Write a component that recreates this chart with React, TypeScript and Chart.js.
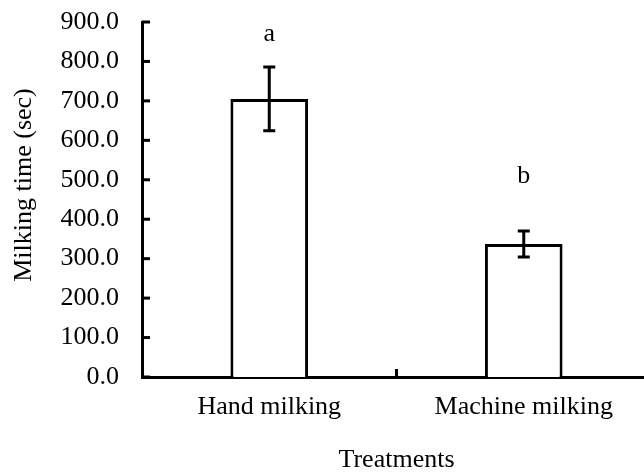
import React, { useEffect, useRef } from "react";
import { Chart, registerables } from "chart.js";

Chart.register(...registerables);

const categories = ["Hand milking", "Machine milking"];
const meanValues = [705, 337];
const errorValues = [81, 33];
const groupLetters = ["a", "b"];
const letterValues = [852, 492];
const yMin = 0;
const yMax = 900;
const yStep = 100;

const FONT = "'Liberation Serif', 'Times New Roman', serif";
const FS = 26;

const customDraw = {
  id: "customDraw",
  afterDatasetsDraw(chart: any) {
    const { ctx, scales, chartArea } = chart;
    const x = scales.x;
    const y = scales.y;
    const meta = chart.getDatasetMeta(0);
    ctx.save();
    ctx.strokeStyle = "#000";
    ctx.lineWidth = 3;
    ctx.lineCap = "butt";
    // error bars
    meta.data.forEach((bar: any, i: number) => {
      const cx = bar.x;
      const top = y.getPixelForValue(meanValues[i] + errorValues[i]);
      const bot = y.getPixelForValue(meanValues[i] - errorValues[i]);
      const cap = 6;
      ctx.beginPath();
      ctx.moveTo(cx, top);
      ctx.lineTo(cx, bot);
      ctx.moveTo(cx - cap, top);
      ctx.lineTo(cx + cap, top);
      ctx.moveTo(cx - cap, bot);
      ctx.lineTo(cx + cap, bot);
      ctx.stroke();
      // letters
      ctx.fillStyle = "#000";
      ctx.font = `${FS}px ${FONT}`;
      ctx.textAlign = "center";
      ctx.textBaseline = "alphabetic";
      ctx.fillText(groupLetters[i], cx, y.getPixelForValue(letterValues[i]));
    });
    // inward y ticks
    y.ticks.forEach((t: any) => {
      const py = y.getPixelForValue(t.value);
      ctx.beginPath();
      ctx.moveTo(chartArea.left, py);
      ctx.lineTo(chartArea.left + 8, py);
      ctx.stroke();
    });
    // inward x category separator ticks
    for (let i = 1; i < categories.length; i++) {
      const px = (x.getPixelForValue(i - 1) + x.getPixelForValue(i)) / 2;
      ctx.beginPath();
      ctx.moveTo(px, chartArea.bottom);
      ctx.lineTo(px, chartArea.bottom - 8);
      ctx.stroke();
    }
    // y axis title
    ctx.save();
    ctx.translate(24, 185);
    ctx.rotate(-Math.PI / 2);
    ctx.font = `${FS}px ${FONT}`;
    ctx.fillStyle = "#000";
    ctx.textAlign = "center";
    ctx.textBaseline = "middle";
    ctx.fillText("Milking time (sec)", 0, 0);
    ctx.restore();
    ctx.restore();
  },
};

export default function App() {
  const ref = useRef<HTMLCanvasElement>(null);
  useEffect(() => {
    document.body.style.margin = "0";
    const chart = new Chart(ref.current as HTMLCanvasElement, {
      type: "bar",
      data: {
        labels: categories,
        datasets: [
          {
            data: meanValues,
            backgroundColor: "#ffffff",
            borderColor: "#000000",
            borderWidth: 3,
            categoryPercentage: 1,
            barPercentage: 0.305,
          },
        ],
      },
      options: {
        responsive: false,
        animation: false,
        events: [],
        layout: { padding: { top: 22, left: 0, right: 0, bottom: 0 } },
        plugins: {
          legend: { display: false },
          tooltip: { enabled: false },
          title: { display: false },
        },
        scales: {
          x: {
            grid: { display: false, drawTicks: false },
            border: { display: true, color: "#000", width: 3 },
            ticks: {
              color: "#000",
              font: { family: FONT, size: FS },
              padding: 15,
              maxRotation: 0,
            },
            title: {
              display: true,
              text: "Treatments",
              color: "#000",
              font: { family: FONT, size: FS },
              padding: { top: 0, bottom: 0 },
            },
            afterFit: (s: any) => {
              s.height = 99;
              s.paddingLeft = 0;
              s.paddingRight = 0;
            },
          },
          y: {
            min: yMin,
            max: yMax,
            grid: { display: false, drawTicks: false },
            border: { display: true, color: "#000", width: 3 },
            ticks: {
              stepSize: yStep,
              color: "#000",
              font: { family: FONT, size: FS },
              padding: 23,
              callback: (v: any) => Number(v).toFixed(1),
            },
            afterFit: (s: any) => {
              s.width = 142;
              s.paddingTop = 0;
              s.paddingBottom = 0;
            },
          },
        },
      },
      plugins: [customDraw],
    });
    return () => chart.destroy();
  }, []);
  return (
    <div
      style={{
        position: "fixed",
        left: 0,
        top: 0,
        width: 644,
        height: 472,
        overflow: "hidden",
        background: "#fff",
      }}
    >
      <canvas
        ref={ref}
        width={651}
        height={476}
        style={{ width: 651, height: 476, display: "block" }}
      />
    </div>
  );
}
